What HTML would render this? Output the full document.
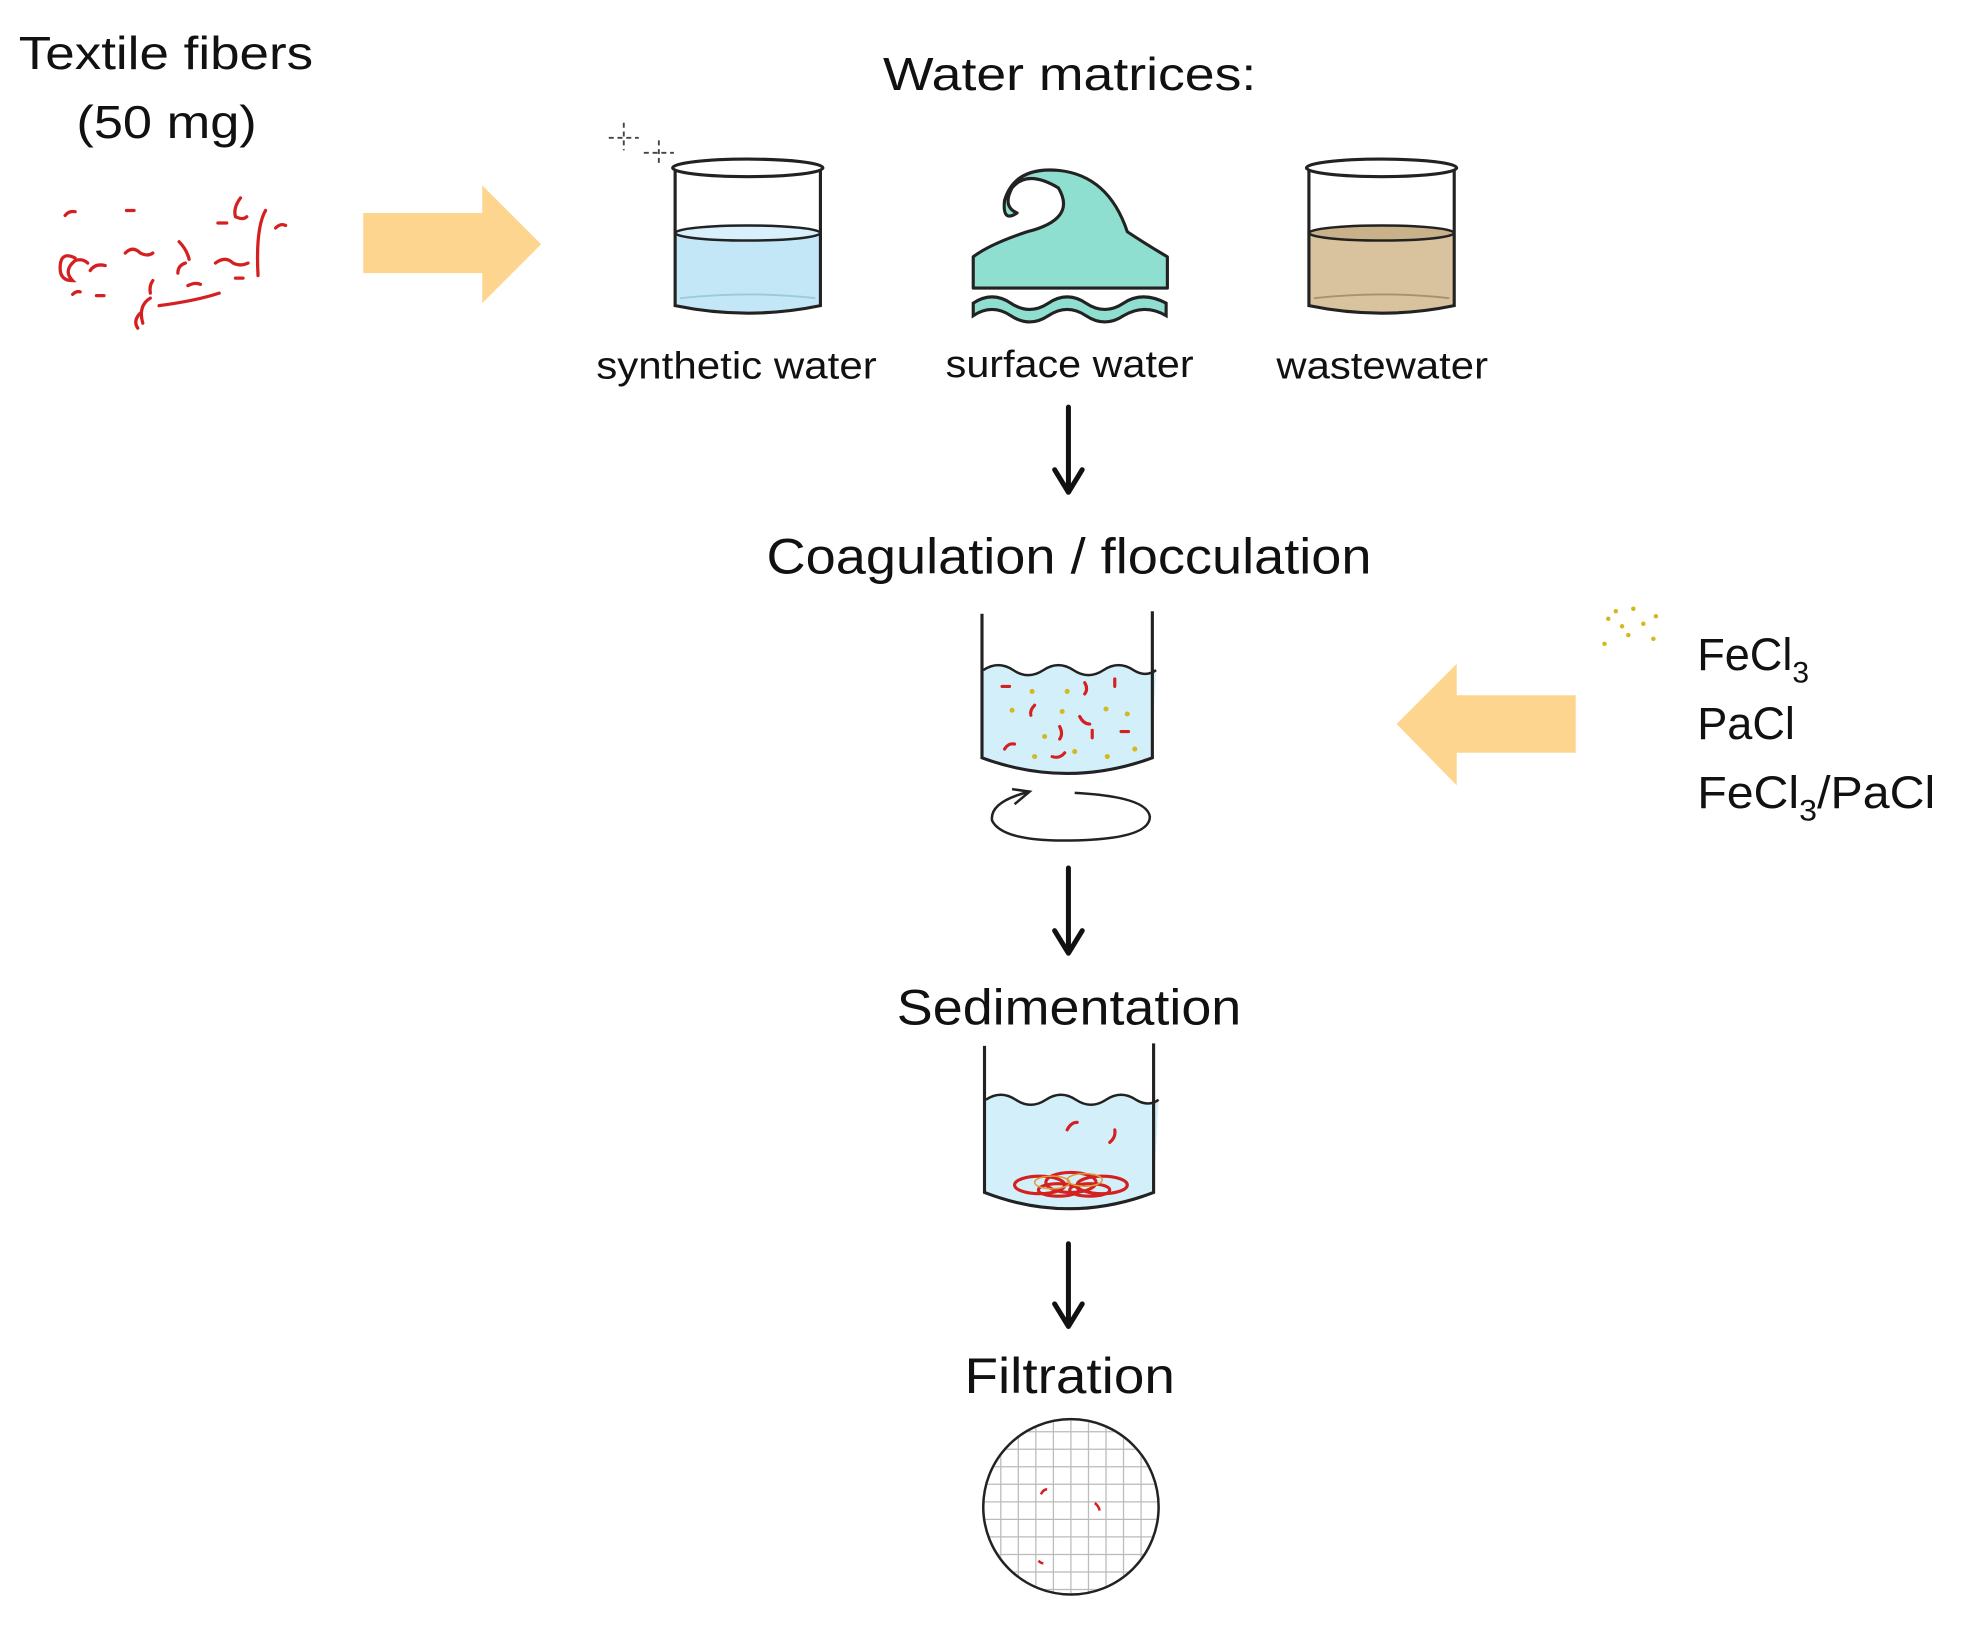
<!DOCTYPE html>
<html><head><meta charset="utf-8"><style>
html,body{margin:0;padding:0;background:#fff;}
svg{display:block;}
text{font-family:"Liberation Sans",sans-serif;fill:#111;}
</style></head><body>
<svg width="1964" height="1629" viewBox="0 0 1568 1300.5" xmlns="http://www.w3.org/2000/svg">
<!-- Textile fibers -->
<text x="15" y="55" font-size="37" textLength="235" lengthAdjust="spacingAndGlyphs">Textile fibers</text>
<text x="61" y="110" font-size="37" textLength="144" lengthAdjust="spacingAndGlyphs">(50 mg)</text>
<g stroke="#d42020" stroke-width="2.6" fill="none" stroke-linecap="round">
<path d="M52 172 q3 -4 8 -3"/><path d="M101 168 h6"/><path d="M60 206 q-12 -6 -12 8 q0 10 10 10 q-8 -8 2 -16 q6 -2 10 2"/>
<path d="M72 216 q4 -6 12 -4"/>
<path d="M100 202 q6 -6 12 0 q6 3 10 0"/><path d="M143 193 q6 6 8 14"/><path d="M174 178 h7"/><path d="M192 158 q-6 8 -4 15 q6 3 9 0"/>
<path d="M172 210 q8 -6 14 0 q6 3 12 0"/><path d="M148 210 q-6 2 -6 8"/><path d="M212 168 q-8 14 -6 52"/><path d="M220 182 q4 -4 8 -2"/>
<path d="M58 235 q3 -3 6 -2"/><path d="M77 236 h6"/><path d="M122 224 q-3 4 -2 10"/><path d="M120 238 q-10 6 -6 20"/>
<path d="M127 244 q30 -4 48 -10"/><path d="M150 228 q6 -3 10 -1"/><path d="M188 222 h6"/><path d="M112 250 q-6 6 -2 12"/>
</g>
<polygon points="290,170 385,170 385,148 432,195 385,242 385,218 290,218" fill="#fdd58f"/>
<text x="705" y="72" font-size="37" textLength="298" lengthAdjust="spacingAndGlyphs">Water matrices:</text>
<g stroke="#444" stroke-width="1.5" stroke-dasharray="4 3">
<path d="M498 98 v22 M486 110 h24"/>
<path d="M526 112 v20 M514 122 h24"/>
</g>
<!-- beaker 1 -->
<path d="M539 186 L539 244 Q597 256 655 244 L655 186 Q597 178 539 186Z" fill="#c4e7f7"/>
<ellipse cx="597" cy="186" rx="58" ry="6" fill="#d8f0fb" stroke="#222" stroke-width="2"/>
<path d="M539 136 L539 244 Q597 256 655 244 L655 136" fill="none" stroke="#222" stroke-width="2.5"/>
<ellipse cx="597" cy="134" rx="60" ry="7" fill="none" stroke="#222" stroke-width="2.5"/>
<path d="M543 238 Q597 232 651 238" fill="none" stroke="#9cc9dc" stroke-width="1.5"/>
<!-- wave -->
<path d="M777 230 L777 205 Q790 195 820 185 Q860 175 845 150 Q820 135 808 150 Q800 165 812 170 Q800 178 802 160 Q810 133 845 136 Q885 140 900 185 Q915 195 932 205 L932 230 Z" fill="#8fdfd0" stroke="#222" stroke-width="2.5" stroke-linejoin="round"/>
<path d="M777 242 q15 -10 30 0 q15 10 30 0 q15 -10 30 0 q15 10 30 0 q15 -10 34 0 v10 q-17 -10 -34 0 q-15 10 -30 0 q-15 -10 -30 0 q-15 10 -30 0 q-15 -10 -30 0z" fill="#8fdfd0" stroke="#222" stroke-width="2.5"/>
<!-- beaker 3 -->
<path d="M1045 186 L1045 244 Q1103 256 1161 244 L1161 186 Q1103 178 1045 186Z" fill="#d8c39e"/>
<ellipse cx="1103" cy="186" rx="58" ry="6" fill="#c9b28a" stroke="#222" stroke-width="2"/>
<path d="M1045 136 L1045 244 Q1103 256 1161 244 L1161 136" fill="none" stroke="#222" stroke-width="2.5"/>
<ellipse cx="1103" cy="134" rx="60" ry="7" fill="none" stroke="#222" stroke-width="2.5"/>
<path d="M1049 238 Q1103 232 1157 238" fill="none" stroke="#a8926c" stroke-width="1.5"/>
<text x="476" y="302" font-size="30" textLength="224" lengthAdjust="spacingAndGlyphs">synthetic water</text>
<text x="755" y="301" font-size="30" textLength="198" lengthAdjust="spacingAndGlyphs">surface water</text>
<text x="1019" y="302" font-size="30" textLength="169" lengthAdjust="spacingAndGlyphs">wastewater</text>
<!-- down arrows -->
<g stroke="#111" stroke-width="4" fill="none" stroke-linecap="round" stroke-linejoin="round">
<path d="M853 325 V390 M842 375 L853 393 L864 375"/>
<path d="M853 693 V758 M842 743 L853 761 L864 743"/>
<path d="M853 993 V1056 M842 1041 L853 1059 L864 1041"/>
</g>
<text x="612" y="458" font-size="40" textLength="483" lengthAdjust="spacingAndGlyphs">Coagulation / flocculation</text>
<!-- coag beaker -->
<path d="M785 535 q12 -8 24 0 q12 8 24 0 q12 -8 24 0 q12 8 24 0 q12 -8 24 0 q10 6 18 0 L919 605 Q852 630 785 605Z" fill="#d3eff9"/>
<path d="M785 535 q12 -8 24 0 q12 8 24 0 q12 -8 24 0 q12 8 24 0 q12 -8 24 0 q10 6 18 0" fill="none" stroke="#222" stroke-width="2"/>
<path d="M784 490 L784 605 Q852 630 920 605 L920 488" fill="none" stroke="#222" stroke-width="2.5"/>
<g stroke="#d42020" stroke-width="2.5" fill="none" stroke-linecap="round">
<path d="M800 548 h6"/><path d="M866 545 q3 5 0 9"/><path d="M890 542 v6"/><path d="M826 563 q-4 4 -3 8"/><path d="M862 572 q3 6 8 6"/>
<path d="M846 580 q3 6 0 10"/><path d="M872 583 v6"/><path d="M895 584 h6"/><path d="M802 598 q3 -5 8 -4"/><path d="M840 604 q6 2 10 -3"/>
</g>
<g fill="#d4b81e">
<circle cx="808" cy="567" r="2"/><circle cx="824" cy="552" r="2"/><circle cx="852" cy="552" r="2"/><circle cx="883" cy="566" r="2"/><circle cx="900" cy="570" r="2"/>
<circle cx="834" cy="588" r="2"/><circle cx="858" cy="600" r="2"/><circle cx="884" cy="604" r="2"/><circle cx="906" cy="598" r="2"/><circle cx="826" cy="604" r="2"/><circle cx="848" cy="568" r="2"/>
</g>
<path d="M822 632 Q790 640 792 655 Q800 672 855 671 Q918 670 918 652 Q916 636 858 633" fill="none" stroke="#222" stroke-width="2"/>
<path d="M810 642 L822 632 L808 630" fill="none" stroke="#222" stroke-width="2"/>
<!-- left arrow -->
<polygon points="1258,555 1163,555 1163,530 1115,578 1163,627 1163,601 1258,601" fill="#fdd58f"/>
<g fill="#d4b81e">
<circle cx="1284" cy="494" r="1.8"/><circle cx="1295" cy="500" r="1.8"/><circle cx="1304" cy="486" r="1.8"/><circle cx="1312" cy="498" r="1.8"/><circle cx="1322" cy="492" r="1.8"/>
<circle cx="1281" cy="514" r="1.8"/><circle cx="1300" cy="507" r="1.8"/><circle cx="1320" cy="510" r="1.8"/><circle cx="1290" cy="488" r="1.8"/>
</g>
<text x="1355" y="535" font-size="36">FeCl<tspan font-size="24" dy="10">3</tspan></text>
<text x="1355" y="590" font-size="36">PaCl</text>
<text x="1355" y="645" font-size="36" textLength="190" lengthAdjust="spacingAndGlyphs">FeCl<tspan font-size="24" dy="10">3</tspan><tspan dy="-10">/PaCl</tspan></text>
<text x="716" y="818" font-size="40" textLength="275" lengthAdjust="spacingAndGlyphs">Sedimentation</text>
<!-- sed beaker -->
<path d="M787 878 q12 -8 24 0 q12 8 24 0 q12 -8 24 0 q12 8 24 0 q12 -8 24 0 q10 6 18 0 L921 952 Q853 978 787 952Z" fill="#d3eff9"/>
<path d="M787 878 q12 -8 24 0 q12 8 24 0 q12 -8 24 0 q12 8 24 0 q12 -8 24 0 q10 6 18 0" fill="none" stroke="#222" stroke-width="2"/>
<path d="M786 835 L786 952 Q853 978 921 952 L921 833" fill="none" stroke="#222" stroke-width="2.5"/>
<g stroke="#d42020" stroke-width="2.5" fill="none" stroke-linecap="round">
<path d="M852 902 q3 -6 8 -6"/><path d="M886 912 q5 -4 4 -10"/>
<ellipse cx="830" cy="946" rx="20" ry="7"/><ellipse cx="855" cy="944" rx="20" ry="8"/><ellipse cx="880" cy="946" rx="20" ry="7"/>
<ellipse cx="845" cy="950" rx="16" ry="5"/><ellipse cx="870" cy="950" rx="16" ry="5"/>
</g>
<g stroke="#e09a3a" stroke-width="1.2" fill="none"><ellipse cx="840" cy="944" rx="14" ry="5"/><ellipse cx="866" cy="942" rx="14" ry="5"/></g>
<text x="770" y="1112" font-size="40" textLength="168" lengthAdjust="spacingAndGlyphs">Filtration</text>
<clipPath id="fc"><circle cx="855" cy="1203" r="69"/></clipPath>
<g clip-path="url(#fc)" stroke="#bbb" stroke-width="1">
<path d="M786 1143h140M786 1157h140M786 1171h140M786 1185h140M786 1199h140M786 1213h140M786 1227h140M786 1241h140M786 1255h140M786 1269h140"/>
<path d="M799 1133v140M813 1133v140M827 1133v140M841 1133v140M855 1133v140M869 1133v140M883 1133v140M897 1133v140M911 1133v140"/>
</g>
<circle cx="855" cy="1203" r="70" fill="none" stroke="#222" stroke-width="2"/>
<g stroke="#d42020" stroke-width="2" fill="none"><path d="M831 1193 q2 -4 5 -4"/><path d="M874 1200 q3 2 4 6"/><path d="M829 1246 q2 2 4 2"/></g>
</svg>
</body></html>
